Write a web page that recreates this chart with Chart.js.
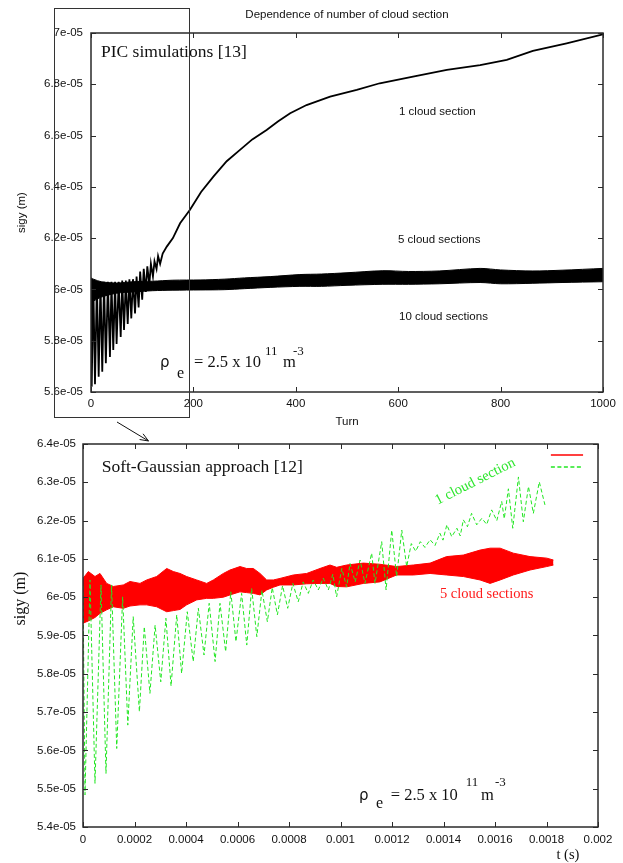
<!DOCTYPE html>
<html><head><meta charset="utf-8">
<script src="https://cdn.jsdelivr.net/npm/chart.js@4/dist/chart.umd.min.js"></script>
<style>
html,body{margin:0;padding:0;background:#fff;}
body{width:623px;height:863px;position:relative;overflow:hidden;}
#top{position:absolute;left:0;top:0;}
#bot{position:absolute;left:0;top:430px;}
</style></head><body>
<canvas id="top" width="623" height="446"></canvas>
<canvas id="bot" width="623" height="433"></canvas>
<script>
const E5 = 1e-5; // values below are sigy in units of 1e-5 m

// ---------- Top panel: PIC simulations ----------
const picTurns1 = [0,1.4,4.5,7.8,11.5,15,18.5,22,25.5,29,33,37,40,43.5,47,50,54,58,61,64.5,68,71.7,75,78.7,82,86,89,93,96,100,103,107,110,114,117,121,124,128,131,135,140,148,160,174,193,215,239,265,291,315,343,365,389,421,467,519,564,629,695,760,812,863,929,1000];
const picSigy1 = [6.00,5.621,6.03,5.63,6.03,5.66,6.03,5.679,6.03,5.712,6.03,5.737,6.03,5.764,6.03,5.787,6.03,5.815,6.035,5.842,6.035,5.865,6.04,5.887,6.04,5.906,6.05,5.93,6.07,5.96,6.08,5.99,6.09,6.02,6.10,6.05,6.11,6.08,6.13,6.10,6.14,6.167,6.20,6.258,6.31,6.38,6.44,6.50,6.544,6.585,6.622,6.655,6.687,6.719,6.752,6.778,6.804,6.83,6.856,6.875,6.895,6.93,6.96,6.995];
const picBandTurns = [0,5,20,50,82,120,160,213,260,300,350,408,450,500,570,620,680,760,800,863,920,1000];
const picBandUpper = [6.045,6.04,6.03,6.025,6.03,6.032,6.036,6.037,6.04,6.045,6.05,6.058,6.06,6.065,6.073,6.07,6.072,6.082,6.076,6.072,6.075,6.082];
const picBandLower = [5.95,5.955,5.97,5.985,5.99,5.995,5.997,5.998,5.999,6.003,6.008,6.012,6.012,6.016,6.02,6.02,6.022,6.027,6.022,6.024,6.027,6.03];
const topXTicks = [0,200,400,600,800,1000];
const topYTicks = [5.6,5.8,6.0,6.2,6.4,6.6,6.8,7.0];

// ---------- Bottom panel: Soft-Gaussian approach ----------
const sgT1 = [0,0.0000078,0.0000272,0.0000466,0.0000699,0.0000893,0.000111,0.000131,0.000154,0.000174,0.000195,0.000219,0.000238,0.00026,0.00028,0.000302,0.000322,0.000342,0.000364,0.000383,0.000405,0.000428,0.000448,0.00047,0.00049,0.000513,0.000532,0.000554,0.000574,0.000594,0.000616,0.000636,0.000655,0.000675,0.000695,0.000716,0.000735,0.000755,0.000775,0.000795,0.000815,0.000836,0.000855,0.000875,0.000894,0.000914,0.000933,0.000953,0.00097,0.000985,0.001005,0.001024,0.001037,0.001057,0.001076,0.001095,0.001121,0.001134,0.00116,0.001177,0.001199,0.001218,0.001238,0.001257,0.001275,0.001292,0.00131,0.001328,0.001348,0.001367,0.001386,0.001398,0.001413,0.001432,0.001452,0.001465,0.001477,0.001493,0.001509,0.001529,0.001549,0.001568,0.001587,0.001607,0.001626,0.001636,0.001652,0.001669,0.001691,0.00171,0.00173,0.001749,0.001772,0.001794];
const sgSigy1 = [6.030,5.484,6.045,5.514,6.032,5.540,6.032,5.605,6.001,5.666,5.949,5.701,5.923,5.749,5.927,5.779,5.945,5.768,5.954,5.801,5.962,5.832,5.971,5.849,5.984,5.832,5.984,5.858,6.014,5.884,6.010,5.875,6.023,5.897,6.018,5.936,6.025,5.954,6.030,5.971,6.036,5.988,6.040,6.010,6.045,6.019,6.050,6.019,6.060,6.001,6.075,6.027,6.088,6.040,6.097,6.036,6.115,6.036,6.145,6.019,6.175,6.054,6.175,6.080,6.140,6.120,6.145,6.130,6.150,6.135,6.167,6.149,6.189,6.158,6.180,6.160,6.202,6.184,6.219,6.189,6.206,6.190,6.228,6.200,6.250,6.205,6.283,6.180,6.314,6.197,6.289,6.219,6.301,6.241];
const sgT5 = [0,0.0000207,0.0000466,0.000066,0.0000919,0.0001178,0.0001566,0.0001825,0.0002214,0.0002473,0.0002861,0.000325,0.0003508,0.0003767,0.0004026,0.0004414,0.0004803,0.0005061,0.000545,0.0005709,0.0006097,0.0006356,0.0006615,0.0006874,0.0007133,0.0007392,0.000765,0.0008168,0.0008686,0.0009204,0.0009592,0.0009851,0.001024,0.001089,0.001153,0.001218,0.001283,0.001348,0.001412,0.001477,0.001542,0.001581,0.00162,0.001671,0.001736,0.001801,0.001827];
const sgUpper5 = [6.049,6.067,6.054,6.062,6.036,6.028,6.032,6.041,6.036,6.045,6.054,6.075,6.067,6.062,6.054,6.045,6.036,6.045,6.062,6.071,6.080,6.075,6.075,6.062,6.045,6.045,6.049,6.058,6.062,6.075,6.084,6.078,6.084,6.089,6.086,6.080,6.084,6.089,6.106,6.110,6.123,6.128,6.128,6.115,6.106,6.102,6.097];
const sgLower5 = [5.932,5.938,5.947,5.958,5.967,5.975,5.971,5.977,5.980,5.980,5.975,5.962,5.965,5.968,5.980,5.993,5.997,5.997,6.000,6.006,6.014,6.012,6.010,6.006,6.019,6.026,6.032,6.032,6.035,6.036,6.036,6.028,6.027,6.036,6.040,6.058,6.058,6.062,6.058,6.054,6.045,6.036,6.045,6.058,6.071,6.080,6.084];
const botXTicks = [0,0.0002,0.0004,0.0006,0.0008,0.001,0.0012,0.0014,0.0016,0.0018,0.002];
const botYTicks = [5.4,5.5,5.6,5.7,5.8,5.9,6.0,6.1,6.2,6.3,6.4];

// ---------- helpers ----------
const SERIF = '"Liberation Serif","Times New Roman",serif';
const SANS = '"Liberation Sans",Arial,Helvetica,sans-serif';
const pts = (xs, ys) => xs.map((x, i) => ({x: x, y: ys[i] * E5}));
const fmtY = v => String(Number((v / E5).toFixed(1))) + 'e-05';
const fixTicks = arr => (s => { s.ticks = arr.map(v => ({value: v})); });

function frame(chart, tl) {
  const {ctx, chartArea: a, scales: {x, y}} = chart;
  ctx.save();
  ctx.strokeStyle = '#2a2a2a';
  ctx.lineWidth = 1;
  ctx.beginPath();
  x.ticks.forEach(t => {
    const p = Math.round(x.getPixelForValue(t.value)) + 0.5;
    ctx.moveTo(p, a.bottom); ctx.lineTo(p, a.bottom - tl);
    ctx.moveTo(p, a.top); ctx.lineTo(p, a.top + tl);
  });
  y.ticks.forEach(t => {
    const p = Math.round(y.getPixelForValue(t.value)) + 0.5;
    ctx.moveTo(a.left, p); ctx.lineTo(a.left + tl, p);
    ctx.moveTo(a.right, p); ctx.lineTo(a.right - tl, p);
  });
  ctx.stroke();
  ctx.lineWidth = 1.5;
  ctx.strokeRect(a.left, a.top, a.right - a.left, a.bottom - a.top);
  ctx.restore();
}
function drawTexts(chart, list) {
  const {ctx, scales: {x, y}} = chart;
  list.forEach(o => {
    ctx.save();
    ctx.font = o.font; ctx.fillStyle = o.color || '#111';
    ctx.textAlign = o.align || 'left'; ctx.textBaseline = 'alphabetic';
    ctx.translate(x.getPixelForValue(o.x), y.getPixelForValue(o.y * E5));
    if (o.rot) ctx.rotate(o.rot);
    ctx.fillText(o.t, 0, 0);
    ctx.restore();
  });
}

// ---------- top chart ----------
const topTexts = [
  {t: 'Dependence of number of cloud section', x: 500, y: 7.0585, font: '11.5px ' + SANS, align: 'center'},
  {t: 'PIC simulations [13]', x: 19.5, y: 6.9076, font: '17.5px ' + SERIF},
  {t: '1 cloud section', x: 601.6, y: 6.680, font: '11.5px ' + SANS},
  {t: '5 cloud sections', x: 599.6, y: 6.181, font: '11.5px ' + SANS},
  {t: '10 cloud sections', x: 601.6, y: 5.881, font: '11.5px ' + SANS},
  {t: 'ρ', x: 134.8, y: 5.6975, font: '15px "DejaVu Sans",sans-serif'},
  {t: 'e', x: 168, y: 5.6546, font: '16px ' + SERIF},
  {t: '= 2.5 x 10', x: 201.2, y: 5.6975, font: '16.5px ' + SERIF},
  {t: '11', x: 339.8, y: 5.7443, font: '13px ' + SERIF},
  {t: 'm', x: 375, y: 5.6975, font: '16.5px ' + SERIF},
  {t: '-3', x: 394.5, y: 5.7443, font: '13px ' + SERIF}
];
const topZoomBox = {x0: -72, x1: 191, y0: 5.5025, y1: 7.0975};
const topArrow = {x0: 50.8, y0: 5.483, x1: 112.3, y1: 5.409};

new Chart(document.getElementById('top'), {
  type: 'scatter',
  data: {datasets: [
    {label: '1 cloud section', data: pts(picTurns1, picSigy1), showLine: true, borderColor: '#000', borderWidth: 1.8, pointRadius: 0, fill: false, tension: 0},
    {label: '10 cloud sections (lower envelope)', data: pts(picBandTurns, picBandLower), showLine: true, borderColor: '#000', borderWidth: 1, pointRadius: 0, fill: false, tension: 0.3},
    {label: '5 cloud sections (upper envelope)', data: pts(picBandTurns, picBandUpper), showLine: true, borderColor: '#000', backgroundColor: '#000', borderWidth: 1, pointRadius: 0, fill: '-1', tension: 0.3}
  ]},
  options: {
    responsive: false, animation: false, devicePixelRatio: 1,
    layout: {padding: {left: 0, right: 20, top: 33, bottom: 14}},
    plugins: {legend: {display: false}, tooltip: {enabled: false}},
    scales: {
      x: {type: 'linear', min: 0, max: 1000, afterBuildTicks: fixTicks(topXTicks), afterFit: s => { s.height = 40; },
          grid: {display: false, drawTicks: false}, border: {display: false},
          ticks: {padding: 5, autoSkip: false, maxRotation: 0, color: '#111', font: {family: SANS, size: 11.5}, callback: v => String(v)},
          title: {display: true, text: 'Turn', color: '#111', font: {family: SANS, size: 11.5}, padding: {top: 0, bottom: 3}}},
      y: {type: 'linear', min: 5.6 * E5, max: 7.0 * E5, afterBuildTicks: fixTicks(topYTicks.map(v => v * E5)), afterFit: s => { s.width = 91; },
          grid: {display: false, drawTicks: false}, border: {display: false},
          ticks: {padding: 8, autoSkip: false, color: '#111', font: {family: SANS, size: 11.5}, callback: fmtY},
          title: {display: true, text: 'sigy (m)', color: '#111', font: {family: SANS, size: 11.5}, padding: {top: 15, bottom: 0}}}
    }
  },
  plugins: [{id: 'decorTop', afterDraw(chart) {
    frame(chart, 5);
    drawTexts(chart, topTexts);
    const {ctx, scales: {x, y}} = chart;
    ctx.save();
    ctx.strokeStyle = '#333'; ctx.lineWidth = 1;
    const bx0 = x.getPixelForValue(topZoomBox.x0), bx1 = x.getPixelForValue(topZoomBox.x1);
    const by0 = y.getPixelForValue(topZoomBox.y0 * E5), by1 = y.getPixelForValue(topZoomBox.y1 * E5);
    ctx.strokeRect(Math.round(bx0) + 0.5, Math.round(by1) + 0.5, Math.round(bx1 - bx0), Math.round(by0 - by1));
    const ax0 = x.getPixelForValue(topArrow.x0), ay0 = y.getPixelForValue(topArrow.y0 * E5);
    const ax1 = x.getPixelForValue(topArrow.x1), ay1 = y.getPixelForValue(topArrow.y1 * E5);
    ctx.strokeStyle = '#111';
    ctx.beginPath(); ctx.moveTo(ax0, ay0); ctx.lineTo(ax1, ay1);
    const ang = Math.atan2(ay1 - ay0, ax1 - ax0), L = 9, w = 0.38;
    ctx.moveTo(ax1 - L * Math.cos(ang - w), ay1 - L * Math.sin(ang - w)); ctx.lineTo(ax1, ay1);
    ctx.lineTo(ax1 - L * Math.cos(ang + w), ay1 - L * Math.sin(ang + w));
    ctx.stroke();
    ctx.restore();
  }}]
});

// ---------- bottom chart ----------
const botTexts = [
  {t: 'Soft-Gaussian approach [12]', x: 0.0000726, y: 6.326, font: '17.5px ' + SERIF},
  {t: '1 cloud section', x: 0.00153, y: 6.293, font: '14.5px ' + SERIF, color: '#2ee62e', align: 'center', rot: -0.47},
  {t: '5 cloud sections', x: 0.001386, y: 5.998, font: '14.5px ' + SERIF, color: '#ff1a1a'},
  {t: 'ρ', x: 0.001072, y: 5.4705, font: '15px "DejaVu Sans",sans-serif'},
  {t: 'e', x: 0.001138, y: 5.4496, font: '16px ' + SERIF},
  {t: '= 2.5 x 10', x: 0.001195, y: 5.4705, font: '16.5px ' + SERIF},
  {t: '11', x: 0.001486, y: 5.507, font: '13px ' + SERIF},
  {t: 'm', x: 0.001546, y: 5.4705, font: '16.5px ' + SERIF},
  {t: '-3', x: 0.0016, y: 5.507, font: '13px ' + SERIF},
  {t: 't (s)', x: 0.001883, y: 5.3164, font: '14.5px ' + SERIF, align: 'center'},
  {t: 'sigy (m)', x: -0.000225, y: 5.9966, font: '16px ' + SERIF, align: 'center', rot: -Math.PI / 2}
];
const botLegend = [
  {x0: 0.001817, x1: 0.001942, y: 6.371, color: '#ff0000', dash: []},
  {x0: 0.001817, x1: 0.001942, y: 6.340, color: '#22e622', dash: [4, 2.5]}
];

new Chart(document.getElementById('bot'), {
  type: 'scatter',
  data: {datasets: [
    {label: '5 cloud sections (lower envelope)', data: pts(sgT5, sgLower5), showLine: true, borderColor: '#ff0000', borderWidth: 1, pointRadius: 0, fill: false, tension: 0, order: 2},
    {label: '5 cloud sections', data: pts(sgT5, sgUpper5), showLine: true, borderColor: '#ff0000', backgroundColor: '#ff0000', borderWidth: 1, pointRadius: 0, fill: '-1', tension: 0, order: 1},
    {label: '1 cloud section', data: pts(sgT1, sgSigy1), showLine: true, borderColor: '#22e622', borderWidth: 1, borderDash: [4, 2.5], pointRadius: 0, fill: false, tension: 0, order: 0}
  ]},
  options: {
    responsive: false, animation: false, devicePixelRatio: 1,
    layout: {padding: {left: 0, right: 25, top: 14, bottom: 0}},
    plugins: {legend: {display: false}, tooltip: {enabled: false}},
    scales: {
      x: {type: 'linear', min: 0, max: 0.002, afterBuildTicks: fixTicks(botXTicks), afterFit: s => { s.height = 36; },
          grid: {display: false, drawTicks: false}, border: {display: false},
          ticks: {padding: 6, autoSkip: false, maxRotation: 0, color: '#111', font: {family: SANS, size: 11.5}, callback: v => String(Number(v.toFixed(4)))}},
      y: {type: 'linear', min: 5.4 * E5, max: 6.4 * E5, afterBuildTicks: fixTicks(botYTicks.map(v => v * E5)), afterFit: s => { s.width = 83; },
          grid: {display: false, drawTicks: false}, border: {display: false},
          ticks: {padding: 7, autoSkip: false, color: '#111', font: {family: SANS, size: 11.5}, callback: fmtY}}
    }
  },
  plugins: [{id: 'decorBot', afterDraw(chart) {
    frame(chart, 5);
    drawTexts(chart, botTexts);
    const {ctx, scales: {x, y}} = chart;
    botLegend.forEach(l => {
      ctx.save();
      ctx.strokeStyle = l.color; ctx.lineWidth = 1.6; ctx.setLineDash(l.dash);
      const py = Math.round(y.getPixelForValue(l.y * E5));
      ctx.beginPath(); ctx.moveTo(x.getPixelForValue(l.x0), py); ctx.lineTo(x.getPixelForValue(l.x1), py); ctx.stroke();
      ctx.restore();
    });
  }}]
});
</script>
</body></html>
